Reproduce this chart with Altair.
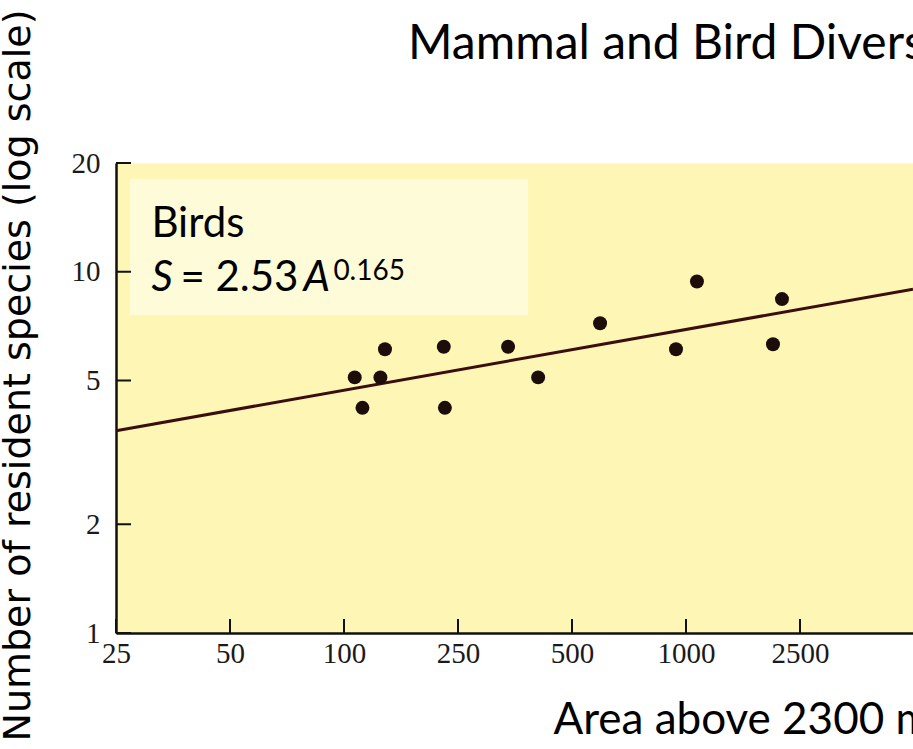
import altair as alt
import pandas as pd

# ---- data ----
area = [109, 116, 134, 139, 223, 225, 339, 407, 593, 941, 1092, 2012, 2163]
species = [5.1, 4.2, 5.1, 6.1, 6.2, 4.2, 6.2, 5.1, 7.2, 6.1, 9.4, 6.3, 8.4]

fit_area = [25, 5000]
fit_species = [3.63, 8.95]

x_ticks = [25, 50, 100, 250, 500, 1000, 2500]
y_ticks = [1, 2, 5, 10, 20]
x_domain = [25, 50, 100, 250, 500, 1000, 2500, 5000]
x_range = [0, 114, 228, 342, 456, 570, 684, 797]

box_x = [27.2]
box_x2 = [383]
box_y = [18.06]
box_y2 = [7.59]

label_x = [31.0]
label_y_birds = [12.48]
label_y_eq = [8.84]

points = pd.DataFrame({"area": area, "species": species})
fit = pd.DataFrame({"area": fit_area, "species": fit_species})
xt = pd.DataFrame({"tick": x_ticks})
yt = pd.DataFrame({"ytick": y_ticks})
box = pd.DataFrame({"area": box_x, "area2": box_x2, "species": box_y, "species2": box_y2})
lab1 = pd.DataFrame({"area": label_x, "species": label_y_birds})
lab2 = pd.DataFrame({"area": label_x, "species": label_y_eq})

xscale = alt.Scale(type="log", domain=x_domain, range=x_range, nice=False)
yscale = alt.Scale(type="log", domain=[1, 20], nice=False)

xaxis = alt.Axis(
    values=x_ticks, format="d", tickSize=0, grid=False,
    labelFont="Liberation Serif", labelFontSize=29, labelColor="#1a1a1a",
    labelPadding=6, labelFlush=False, labelOverlap=False,
    domainColor="#111111", domainWidth=2.5,
    title="Area above 2300 m (km²)", titleFont="Lato", titleFontSize=44,
    titleFontWeight="normal", titleColor="black",
    titleX=437, titleY=100, titleAlign="left", titleAnchor="start",
    titleBaseline="alphabetic",
)
yaxis = alt.Axis(
    values=y_ticks, format="d", tickSize=0, grid=False,
    labelFont="Liberation Serif", labelFontSize=29, labelColor="#1a1a1a",
    labelPadding=16, labelFlush=False, labelOverlap=False,
    domainColor="#111111", domainWidth=2.5,
    title="Number of resident species (log scale)", titleFont="DejaVu Sans",
    titleFontSize=38, titleFontWeight="normal", titleColor="black",
    titleX=-87, titleY=212, titleAngle=270, titleAlign="center",
    titleBaseline="alphabetic",
)

X = alt.X("area:Q", scale=xscale, axis=xaxis)
Y = alt.Y("species:Q", scale=yscale, axis=yaxis)

rect = alt.Chart(box).mark_rect(color="#FEFBD8").encode(
    x=X, x2="area2:Q", y=Y, y2="species2:Q"
)
line = alt.Chart(fit).mark_line(color="#3a0e0e", strokeWidth=3).encode(x=X, y=Y)
dots = alt.Chart(points).mark_circle(size=195, color="#1c0d0a", opacity=1).encode(x=X, y=Y)

xtick_rules = alt.Chart(xt).mark_rule(color="#111111", strokeWidth=2).encode(
    x=alt.X("tick:Q", scale=xscale, axis=xaxis), y=alt.value(470), y2=alt.value(456)
)
ytick_rules = alt.Chart(yt).mark_rule(color="#111111", strokeWidth=2).encode(
    y=alt.Y("ytick:Q", scale=yscale, axis=yaxis), x=alt.value(0), x2=alt.value(15)
)

txt = dict(align="left", baseline="alphabetic", font="Lato", fontSize=42, color="black")
t_birds = alt.Chart(lab1).mark_text(text="Birds", **txt).encode(x=X, y=Y)
t_s = alt.Chart(lab2).mark_text(text="S", fontStyle="italic", **txt).encode(x=X, y=Y)
t_eq = alt.Chart(lab2).mark_text(text="= 2.53", dx=29, **txt).encode(x=X, y=Y)
t_a = alt.Chart(lab2).mark_text(text="A", fontStyle="italic", dx=152, **txt).encode(x=X, y=Y)
t_sup = alt.Chart(lab2).mark_text(
    text="0.165", dx=182, dy=-11, align="left", baseline="alphabetic",
    font="Lato", fontSize=28, color="black"
).encode(x=X, y=Y)

chart = alt.layer(
    rect, line, dots, xtick_rules, ytick_rules, t_birds, t_s, t_eq, t_a, t_sup
).properties(
    width=797, height=470,
    autosize=alt.AutoSizeParams(type="none"),
    padding={"left": 116, "top": 163, "right": 0, "bottom": 116},
    title=alt.Title(
        "Mammal and Bird Diversity", anchor="start", frame="group", dx=292,
        offset=-98, font="Lato", fontSize=48, fontWeight="normal", color="black",
        baseline="alphabetic",
    ),
).configure_view(fill="#FDF6B4", stroke="transparent")

chart.save("out.html", embed_options={"renderer": "svg", "actions": False})
